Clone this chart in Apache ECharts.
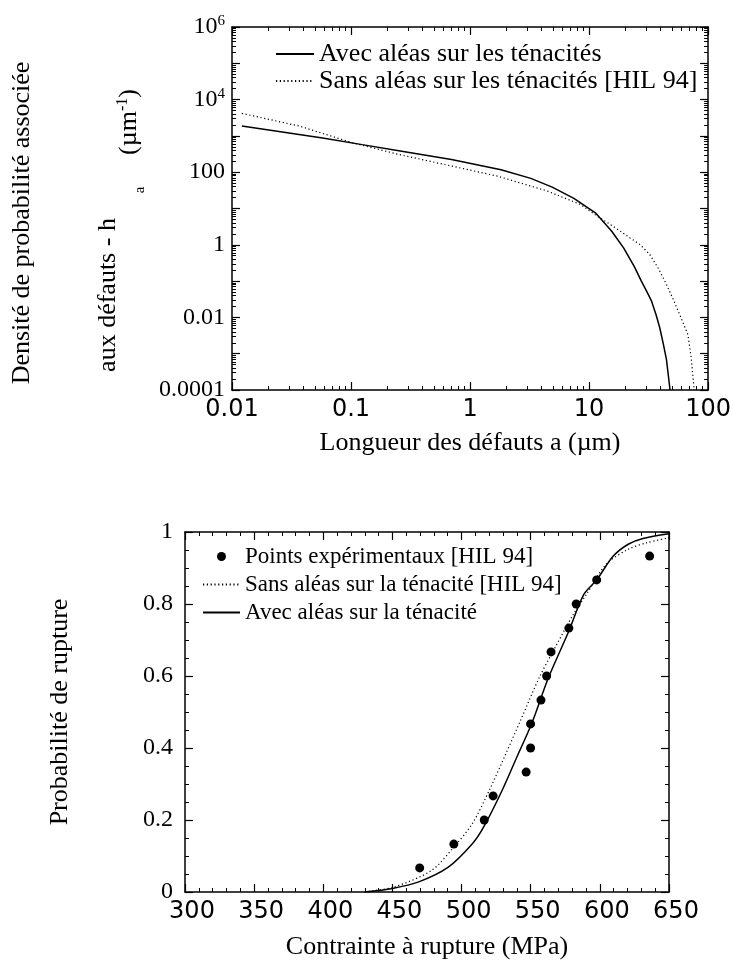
<!DOCTYPE html>
<html>
<head>
<meta charset="utf-8">
<script src="https://cdn.jsdelivr.net/npm/echarts@6/dist/echarts.min.js"></script>
<style>
  html, body { margin: 0; background: #fff; }
  #main { width: 734px; height: 963px; }
</style>
</head>
<body>
<div id="main"></div>
<script>
// --- top chart: densite de probabilite h_a vs longueur des defauts a
const avecLen = [0.0121, 0.0577, 0.124, 0.267, 0.698, 1.82, 3.24, 4.9, 7.45, 11.3, 15.5, 19.5, 24, 27.5, 30.5, 33.5, 36.5, 39.3, 42, 44.7, 47.9];
const avecDens = [1860, 881, 575, 380, 224, 117, 67.6, 38.9, 19.1, 7.6, 2.37, 0.82, 0.25, 0.1, 0.052, 0.028, 0.012, 0.0051, 0.0019, 0.00069, 0.0001];
const sansLen = [0.0121, 0.0369, 0.1026, 0.251, 0.698, 1.71, 4.47, 8.47, 11.7, 16, 22.1, 27, 32.4, 38, 44.7, 51, 57.7, 67.6, 72.1, 76.4];
const sansDens = [4170, 1860, 646, 309, 148, 77.6, 30.2, 12.9, 6.17, 3.2, 1.55, 1.0, 0.537, 0.23, 0.0813, 0.031, 0.012, 0.0034, 0.00078, 0.0001];
const lenTickLabels = ['0.01', '0.1', '1', '10', '100'];
const densExp = [-4, -2, 0, 2, 4, 6];
const densTickLabels = ['0.0001', '0.01', '1', '100', '10{s|4}', '10{s|6}'];

// --- bottom chart: probabilite de rupture vs contrainte
const ptStress = [469.7, 494.4, 516.4, 522.8, 546.7, 549.9, 549.9, 557.4, 561.5, 564.7, 577.6, 582.9, 597.7, 636];
const ptProb = [0.067, 0.133, 0.2, 0.267, 0.333, 0.4, 0.467, 0.533, 0.6, 0.667, 0.733, 0.8, 0.867, 0.933];
const avecStress = [430, 450, 469, 490.4, 507.8, 515.9, 529.3, 540, 550.7, 562.8, 577.6, 588.3, 597.7, 609.7, 620.5, 631.2, 650];
const avecProb = [0, 0.01, 0.028, 0.069, 0.134, 0.18, 0.282, 0.375, 0.468, 0.595, 0.725, 0.826, 0.867, 0.933, 0.966, 0.982, 0.995];
const sansStress = [430, 435.4, 451.5, 478.3, 494.4, 507.8, 521.2, 532, 542.7, 556.1, 568.2, 580.2, 591, 604.4, 620.5, 633.9, 650];
const sansProb = [0, 0.003, 0.014, 0.06, 0.125, 0.19, 0.292, 0.384, 0.477, 0.595, 0.683, 0.767, 0.831, 0.91, 0.952, 0.97, 0.984];

const serif = 'Liberation Serif';
const sans = 'DejaVu Sans';

function zip(xs, ys) {
    return xs.map((x, i) => [x, ys[i]]);
}

function axisBase(extra) {
    return Object.assign({
        axisLine: { show: true, onZero: false, lineStyle: { color: '#000', width: 1.5 } },
        axisTick: { show: true, inside: true, length: 8, lineStyle: { color: '#000', width: 1.2 } },
        splitLine: { show: false },
        minorSplitLine: { show: false }
    }, extra);
}

function minor(n) {
    return { show: true, splitNumber: n, length: 4, lineStyle: { color: '#000', width: 1 } };
}

// line items in the legends: no symbol, only the line sample
const noDot = { opacity: 0 };

var chart = echarts.init(document.getElementById('main'));

var option = {
    backgroundColor: '#fff',
    animation: false,
    grid: [
        { left: 232, top: 27, width: 480, height: 363 },
        { left: 185, top: 532, width: 484, height: 360 }
    ],
    legend: [
        {
            data: [
                { name: 'Avec aléas sur les ténacités', itemStyle: noDot },
                { name: 'Sans aléas sur les ténacités [HIL 94]', itemStyle: noDot }
            ],
            orient: 'vertical', left: 270, top: 36,
            itemWidth: 38, itemHeight: 12, itemGap: 1,
            textStyle: { fontFamily: serif, fontSize: 26, color: '#000' }
        },
        {
            data: [
                { name: 'Points expérimentaux [HIL 94]' },
                { name: 'Sans aléas sur la ténacité [HIL 94]', itemStyle: noDot },
                { name: 'Avec aléas sur la ténacité', itemStyle: noDot }
            ],
            orient: 'vertical', left: 197, top: 540,
            itemWidth: 37, itemHeight: 9, itemGap: 5,
            textStyle: { fontFamily: serif, fontSize: 23, color: '#000' }
        }
    ],
    xAxis: [
        axisBase({
            type: 'log', gridIndex: 0, min: 0.01, max: 100, position: 'bottom',
            minorTick: minor(9),
            axisLabel: {
                fontFamily: sans, fontSize: 24, color: '#000', margin: 8,
                formatter: v => lenTickLabels[Math.round(Math.log10(v)) + 2] || ''
            },
            name: 'Longueur des défauts a (µm)', nameLocation: 'middle', nameGap: 40,
            nameTextStyle: { fontFamily: serif, fontSize: 26, color: '#000' }
        }),
        axisBase({
            type: 'log', gridIndex: 0, min: 0.01, max: 100, position: 'top',
            minorTick: minor(9),
            axisLabel: { show: false }
        }),
        axisBase({
            type: 'value', gridIndex: 1, min: 300, max: 650, interval: 50, position: 'bottom',
            minorTick: minor(5),
            axisLabel: { fontFamily: sans, fontSize: 24, color: '#000', margin: 8, padding: [0, 0, 0, 14] },
            name: 'Contrainte à rupture (MPa)', nameLocation: 'middle', nameGap: 42,
            nameTextStyle: { fontFamily: serif, fontSize: 26, color: '#000' }
        }),
        axisBase({
            type: 'value', gridIndex: 1, min: 300, max: 650, interval: 50, position: 'top',
            minorTick: minor(5),
            axisLabel: { show: false }
        })
    ],
    yAxis: [
        axisBase({
            type: 'log', gridIndex: 0, min: 0.0001, max: 1000000, splitNumber: 10, position: 'left',
            minorTick: minor(9),
            axisLabel: {
                fontFamily: serif, fontSize: 24, color: '#000', margin: 7,
                formatter: v => {
                    const i = densExp.indexOf(Math.round(Math.log10(v)));
                    return i < 0 ? '' : densTickLabels[i];
                },
                rich: { s: { fontFamily: serif, fontSize: 15, color: '#000', padding: [0, 0, 12, 0] } }
            }
        }),
        axisBase({
            type: 'log', gridIndex: 0, min: 0.0001, max: 1000000, splitNumber: 10, position: 'right',
            minorTick: minor(9),
            axisLabel: { show: false }
        }),
        axisBase({
            type: 'value', gridIndex: 1, min: 0, max: 1, interval: 0.2, position: 'left',
            minorTick: minor(4),
            axisLabel: { fontFamily: serif, fontSize: 24, color: '#000', margin: 12 },
            name: 'Probabilité de rupture', nameLocation: 'middle', nameGap: 112, nameRotate: 90,
            nameTextStyle: { fontFamily: serif, fontSize: 26, color: '#000' }
        }),
        axisBase({
            type: 'value', gridIndex: 1, min: 0, max: 1, interval: 0.2, position: 'right',
            minorTick: minor(4),
            axisLabel: { show: false }
        })
    ],
    graphic: [
        {
            type: 'text', x: 22, y: 223, rotation: Math.PI / 2,
            style: { text: 'Densité de probabilité associée', font: '26px "Liberation Serif"', fill: '#000', align: 'center', verticalAlign: 'middle' }
        },
        {
            type: 'text', x: 108, y: 295, rotation: Math.PI / 2,
            style: { text: 'aux défauts - h', font: '26px "Liberation Serif"', fill: '#000', align: 'center', verticalAlign: 'middle' }
        },
        {
            type: 'text', x: 140, y: 190, rotation: Math.PI / 2,
            style: { text: 'a', font: '15px "Liberation Serif"', fill: '#000', align: 'center', verticalAlign: 'middle' }
        },
        {
            type: 'text', x: 129, y: 122, rotation: Math.PI / 2,
            style: {
                text: '(µm{s|-1})', font: '26px "Liberation Serif"', fill: '#000', align: 'center', verticalAlign: 'middle',
                rich: { s: { font: '16px "Liberation Serif"', fill: '#000', padding: [0, 0, 12, 0] } }
            }
        }
    ],
    series: [
        {
            name: 'Avec aléas sur les ténacités', type: 'line', xAxisIndex: 0, yAxisIndex: 0,
            data: zip(avecLen, avecDens), showSymbol: false, symbol: 'none',
            lineStyle: { color: '#000', width: 1.5 }, itemStyle: { color: '#000' }
        },
        {
            name: 'Sans aléas sur les ténacités [HIL 94]', type: 'line', xAxisIndex: 0, yAxisIndex: 0,
            data: zip(sansLen, sansDens), showSymbol: false, symbol: 'none',
            lineStyle: { color: '#000', width: 1.2, type: [1.2, 2.6] }, itemStyle: { color: '#000' }
        },
        {
            name: 'Points expérimentaux [HIL 94]', type: 'scatter', xAxisIndex: 2, yAxisIndex: 2,
            data: zip(ptStress, ptProb), symbol: 'circle', symbolSize: 9,
            itemStyle: { color: '#000', opacity: 1 }
        },
        {
            name: 'Sans aléas sur la ténacité [HIL 94]', type: 'line', xAxisIndex: 2, yAxisIndex: 2,
            data: zip(sansStress, sansProb), showSymbol: false, symbol: 'none', smooth: 0.3,
            lineStyle: { color: '#000', width: 1.2, type: [1.2, 2.6] }, itemStyle: { color: '#000' }
        },
        {
            name: 'Avec aléas sur la ténacité', type: 'line', xAxisIndex: 2, yAxisIndex: 2,
            data: zip(avecStress, avecProb), showSymbol: false, symbol: 'none', smooth: 0.3,
            lineStyle: { color: '#000', width: 1.5 }, itemStyle: { color: '#000' }
        }
    ]
};

chart.setOption(option);
</script>
</body>
</html>
